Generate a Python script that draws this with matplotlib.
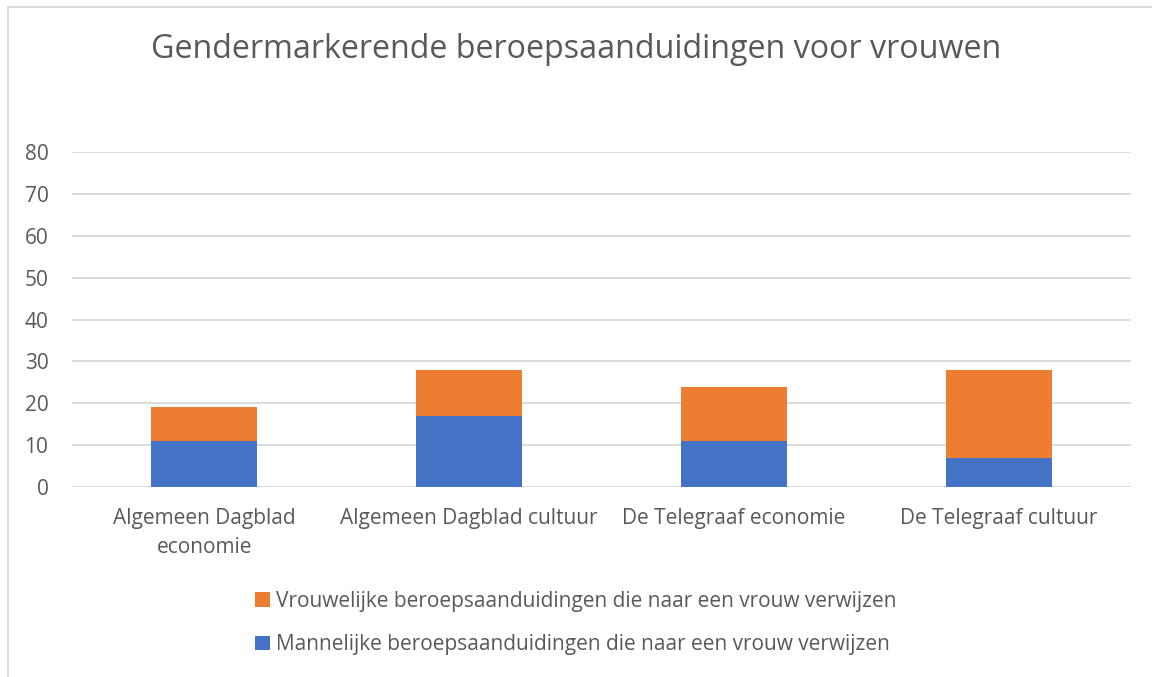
import matplotlib
matplotlib.use("Agg")
import matplotlib.pyplot as plt
from matplotlib.lines import Line2D
from matplotlib.patches import Patch

categories = ["Algemeen Dagblad\neconomie", "Algemeen Dagblad cultuur",
              "De Telegraaf economie", "De Telegraaf cultuur"]
mannelijk = [11, 17, 11, 7]
vrouwelijk = [8, 11, 13, 21]
yticks = [0, 10, 20, 30, 40, 50, 60, 70, 80]
title = "Gendermarkerende beroepsaanduidingen voor vrouwen"
label_v = "Vrouwelijke beroepsaanduidingen die naar een vrouw verwijzen"
label_m = "Mannelijke beroepsaanduidingen die naar een vrouw verwijzen"

blue = "#4472C4"
orange = "#ED7D31"
txt = "#595959"
grid = "#D9D9D9"

plt.rcParams['font.family'] = ['Open Sans', 'DejaVu Sans']

W, H = 1152, 677
fig = plt.figure(figsize=(W / 100, H / 100), dpi=100)

ax = fig.add_axes([72 / W, 1 - 487 / H, (1131 - 72) / W, (487 - 152) / H])
x = list(range(len(categories)))
ax.bar(x, mannelijk, width=0.4, color=blue, zorder=3, label=label_m)
ax.bar(x, vrouwelijk, width=0.4, bottom=mannelijk, color=orange, zorder=3, label=label_v)
ax.set_xlim(-0.5, len(categories) - 0.5)
ax.set_ylim(0, 80)
ax.set_yticks(yticks)
ax.set_yticklabels([str(t) for t in yticks])
ax.set_xticks(x)
ax.set_xticklabels(categories)
ax.yaxis.grid(True, color=grid, linewidth=1.3, zorder=0)
ax.set_axisbelow(True)
for s in ax.spines.values():
    s.set_visible(False)
ax.tick_params(axis='both', length=0, colors=txt, labelsize=15)
ax.tick_params(axis='x', pad=15)
ax.tick_params(axis='y', pad=17)
for lab in ax.get_xticklabels():
    lab.set_linespacing(1.5)

fig.text(0.5, 1 - 50 / H, title, ha='center', va='center', fontsize=23.2, color=txt)

handles = [Patch(facecolor=orange, label=label_v), Patch(facecolor=blue, label=label_m)]
fig.legend(handles=handles, loc='center', bbox_to_anchor=(0.5, 1 - 623 / H),
           ncol=1, frameon=False, fontsize=15, labelcolor=txt,
           handlelength=0.7, handleheight=0.7, handletextpad=0.3, labelspacing=1.1)

# chart border (top and left)
fig.add_artist(Line2D([8 / W, 1], [1 - 7 / H, 1 - 7 / H], color=grid, linewidth=1.3))
fig.add_artist(Line2D([8 / W, 8 / W], [0, 1 - 7 / H], color=grid, linewidth=1.3))

fig.savefig("out.png", dpi=100, facecolor="white")
